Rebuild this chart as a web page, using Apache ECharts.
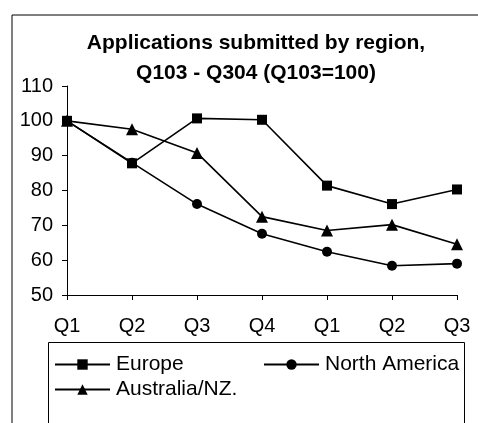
<!DOCTYPE html>
<html>
<head>
<meta charset="utf-8">
<script src="https://cdn.jsdelivr.net/npm/echarts@6/dist/echarts.min.js"></script>
<style>html,body{margin:0;padding:0;background:#fff}#c{width:478px;height:423px}</style>
</head>
<body>
<div id="c"></div>
<script>
var categories = ['Q1', 'Q2', 'Q3', 'Q4', 'Q1', 'Q2', 'Q3'];
var europe = [100, 87.8, 100.7, 100.3, 81.4, 76.1, 80.3];
var northAmerica = [100, 88.0, 76.1, 67.6, 62.4, 58.4, 59.0];
var australiaNZ = [100, 97.6, 90.8, 72.5, 68.5, 70.2, 64.6];
var yTicks = [50, 60, 70, 80, 90, 100, 110];

var FONT = '"Liberation Sans", Arial, sans-serif';
var chart = echarts.init(document.getElementById('c'));

function series(name, data, symbol, size) {
  return {
    name: name, type: 'line', data: data, symbol: symbol, symbolSize: size,
    lineStyle: {color: '#000', width: 1.6}, itemStyle: {color: '#000'},
    emphasis: {disabled: true}, animation: false
  };
}

function legend(name, left, top) {
  return {
    data: [name], left: left, top: top, itemWidth: 55, itemHeight: 13, itemGap: 0,
    textStyle: {fontFamily: FONT, fontSize: 21, color: '#000', padding: [0, 0, 0, 1]},
    selectedMode: false, padding: 0
  };
}

chart.setOption({
  animation: false,
  title: {
    text: 'Applications submitted by region,\nQ103 - Q304 (Q103=100)',
    left: 251, top: 23, textAlign: 'center',
    textStyle: {fontFamily: FONT, fontSize: 21, fontWeight: 'bold', color: '#000', lineHeight: 30}
  },
  graphic: [
    {type: 'rect', shape: {x: 12, y: 15, width: 500, height: 500}, style: {fill: 'none', stroke: '#000', lineWidth: 1}, silent: true, z: -1},
    {type: 'rect', shape: {x: 48.5, y: 342.5, width: 416, height: 120}, style: {fill: 'none', stroke: '#000', lineWidth: 1}, silent: true, z: -1}
  ],
  legend: [
    legend('Europe', 54, 354),
    legend('North America', 263, 354),
    legend('Australia/NZ.', 54, 379)
  ],
  grid: {left: 67, top: 86, right: 21, bottom: 128, containLabel: false},
  xAxis: {
    type: 'category', data: categories, boundaryGap: false,
    axisLine: {lineStyle: {color: '#000', width: 1}},
    axisTick: {show: true, length: 5, alignWithLabel: true, lineStyle: {color: '#000'}},
    axisLabel: {fontFamily: FONT, fontSize: 20, color: '#000', margin: 21},
    splitLine: {show: false}
  },
  yAxis: {
    type: 'value', min: yTicks[0], max: yTicks[yTicks.length - 1], interval: 10,
    axisLine: {show: true, lineStyle: {color: '#000', width: 1}},
    axisTick: {show: true, length: 5, lineStyle: {color: '#000'}},
    axisLabel: {fontFamily: FONT, fontSize: 20, color: '#000', margin: 14},
    splitLine: {show: false}
  },
  series: [
    series('Europe', europe, 'rect', 10),
    series('North America', northAmerica, 'circle', 10),
    series('Australia/NZ.', australiaNZ, 'triangle', 12)
  ]
});
</script>
</body>
</html>
